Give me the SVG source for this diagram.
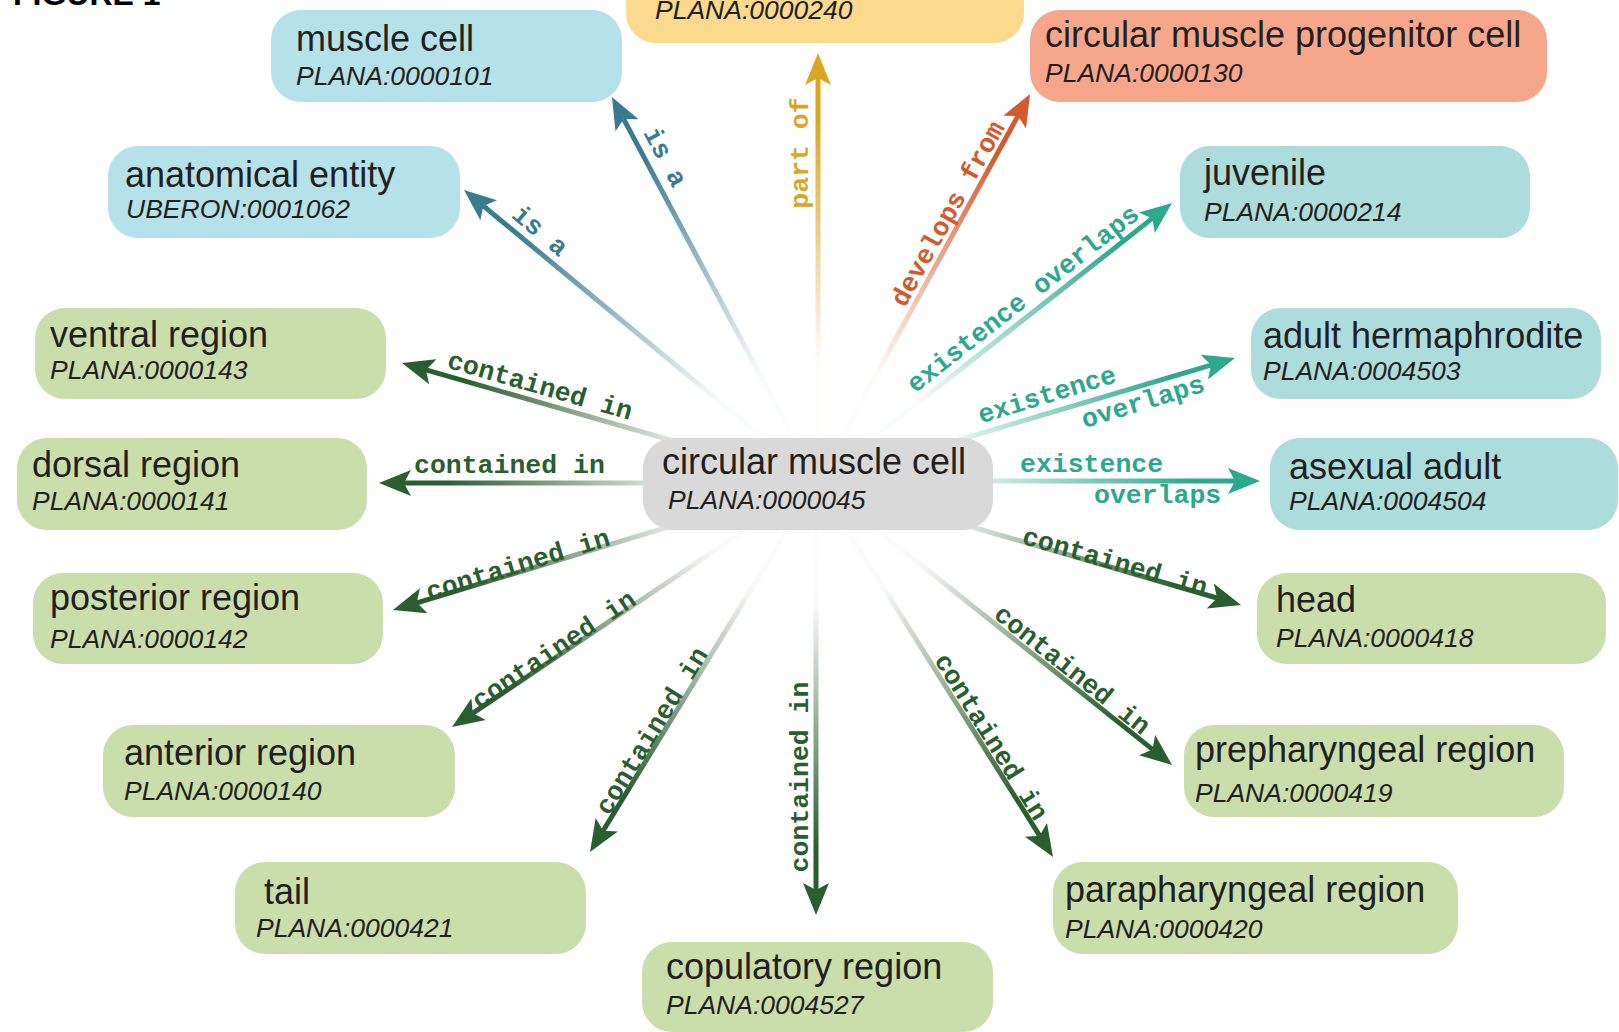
<svg xmlns="http://www.w3.org/2000/svg" width="1619" height="1032" viewBox="0 0 1619 1032">
<style>
.lbl{font-family:"Liberation Sans",Arial,sans-serif;font-size:36px;fill:#231f20}
.id{font-family:"Liberation Sans",Arial,sans-serif;font-size:26.5px;font-style:italic;fill:#231f20}
.el{font-family:"Liberation Mono","Courier New",monospace;font-size:26.5px;font-weight:bold}
.mid{text-anchor:middle}
.edge{fill:none;stroke-width:5}
.blue{fill:#b5e1e8}.teal{fill:#acdcdb}.green{fill:#cadeab}.salmon{fill:#f6a78b}.yellow{fill:#fbd98d}.grey{fill:#d9d9d9}
.c-isa{fill:#3a7b8f}.c-part{fill:#dba623}.c-dev{fill:#d25a2c}.c-ex{fill:#2ca88d}.c-in{fill:#2a5d2f}
</style>
<defs>
<marker id="m-isa" viewBox="0 0 32 26" refX="7" refY="13" markerWidth="32" markerHeight="26" markerUnits="userSpaceOnUse" orient="auto"><path d="M0,0 L32,13 L0,26 L7,13 Z" fill="#3a7b8f"/></marker>
<marker id="m-part" viewBox="0 0 32 26" refX="7" refY="13" markerWidth="32" markerHeight="26" markerUnits="userSpaceOnUse" orient="auto"><path d="M0,0 L32,13 L0,26 L7,13 Z" fill="#dba623"/></marker>
<marker id="m-dev" viewBox="0 0 32 26" refX="7" refY="13" markerWidth="32" markerHeight="26" markerUnits="userSpaceOnUse" orient="auto"><path d="M0,0 L32,13 L0,26 L7,13 Z" fill="#d25a2c"/></marker>
<marker id="m-ex" viewBox="0 0 32 26" refX="7" refY="13" markerWidth="32" markerHeight="26" markerUnits="userSpaceOnUse" orient="auto"><path d="M0,0 L32,13 L0,26 L7,13 Z" fill="#2ca88d"/></marker>
<marker id="m-in" viewBox="0 0 32 26" refX="7" refY="13" markerWidth="32" markerHeight="26" markerUnits="userSpaceOnUse" orient="auto"><path d="M0,0 L32,13 L0,26 L7,13 Z" fill="#2a5d2f"/></marker>
<linearGradient id="g1" gradientUnits="userSpaceOnUse" x1="817" y1="482" x2="623.7" y2="119.1"><stop offset="0" stop-color="#3a7b8f" stop-opacity="0"/><stop offset="0.3" stop-color="#3a7b8f" stop-opacity="0.03"/><stop offset="0.9" stop-color="#3a7b8f" stop-opacity="1"/></linearGradient>
<linearGradient id="g2" gradientUnits="userSpaceOnUse" x1="817" y1="482" x2="483.3" y2="205.9"><stop offset="0" stop-color="#3a7b8f" stop-opacity="0"/><stop offset="0.3" stop-color="#3a7b8f" stop-opacity="0.03"/><stop offset="0.9" stop-color="#3a7b8f" stop-opacity="1"/></linearGradient>
<linearGradient id="g3" gradientUnits="userSpaceOnUse" x1="818" y1="482" x2="818" y2="78"><stop offset="0" stop-color="#dba623" stop-opacity="0"/><stop offset="0.3" stop-color="#dba623" stop-opacity="0.03"/><stop offset="0.9" stop-color="#dba623" stop-opacity="1"/></linearGradient>
<linearGradient id="g4" gradientUnits="userSpaceOnUse" x1="817" y1="482" x2="1018" y2="115.9"><stop offset="0" stop-color="#d25a2c" stop-opacity="0"/><stop offset="0.3" stop-color="#d25a2c" stop-opacity="0.03"/><stop offset="0.9" stop-color="#d25a2c" stop-opacity="1"/></linearGradient>
<linearGradient id="g5" gradientUnits="userSpaceOnUse" x1="817" y1="482" x2="1152.3" y2="218.4"><stop offset="0" stop-color="#2ca88d" stop-opacity="0"/><stop offset="0.3" stop-color="#2ca88d" stop-opacity="0.03"/><stop offset="0.9" stop-color="#2ca88d" stop-opacity="1"/></linearGradient>
<linearGradient id="g6" gradientUnits="userSpaceOnUse" x1="817" y1="482" x2="1211" y2="365.1"><stop offset="0" stop-color="#2ca88d" stop-opacity="0"/><stop offset="0.3" stop-color="#2ca88d" stop-opacity="0.03"/><stop offset="0.9" stop-color="#2ca88d" stop-opacity="1"/></linearGradient>
<linearGradient id="g7" gradientUnits="userSpaceOnUse" x1="817" y1="481" x2="1235" y2="481"><stop offset="0" stop-color="#2ca88d" stop-opacity="0"/><stop offset="0.3" stop-color="#2ca88d" stop-opacity="0.03"/><stop offset="0.9" stop-color="#2ca88d" stop-opacity="1"/></linearGradient>
<linearGradient id="g8" gradientUnits="userSpaceOnUse" x1="817" y1="482" x2="1217" y2="598"><stop offset="0" stop-color="#2a5d2f" stop-opacity="0"/><stop offset="0.3" stop-color="#2a5d2f" stop-opacity="0.03"/><stop offset="0.9" stop-color="#2a5d2f" stop-opacity="1"/></linearGradient>
<linearGradient id="g9" gradientUnits="userSpaceOnUse" x1="817" y1="482" x2="1152.5" y2="749.4"><stop offset="0" stop-color="#2a5d2f" stop-opacity="0"/><stop offset="0.3" stop-color="#2a5d2f" stop-opacity="0.03"/><stop offset="0.9" stop-color="#2a5d2f" stop-opacity="1"/></linearGradient>
<linearGradient id="g10" gradientUnits="userSpaceOnUse" x1="817" y1="482" x2="1039.7" y2="835.8"><stop offset="0" stop-color="#2a5d2f" stop-opacity="0"/><stop offset="0.3" stop-color="#2a5d2f" stop-opacity="0.03"/><stop offset="0.9" stop-color="#2a5d2f" stop-opacity="1"/></linearGradient>
<linearGradient id="g11" gradientUnits="userSpaceOnUse" x1="816" y1="482" x2="816" y2="890"><stop offset="0" stop-color="#2a5d2f" stop-opacity="0"/><stop offset="0.3" stop-color="#2a5d2f" stop-opacity="0.03"/><stop offset="0.9" stop-color="#2a5d2f" stop-opacity="1"/></linearGradient>
<linearGradient id="g12" gradientUnits="userSpaceOnUse" x1="817" y1="482" x2="603.1" y2="830.7"><stop offset="0" stop-color="#2a5d2f" stop-opacity="0"/><stop offset="0.3" stop-color="#2a5d2f" stop-opacity="0.03"/><stop offset="0.9" stop-color="#2a5d2f" stop-opacity="1"/></linearGradient>
<linearGradient id="g13" gradientUnits="userSpaceOnUse" x1="817" y1="482" x2="472.8" y2="713.1"><stop offset="0" stop-color="#2a5d2f" stop-opacity="0"/><stop offset="0.3" stop-color="#2a5d2f" stop-opacity="0.03"/><stop offset="0.9" stop-color="#2a5d2f" stop-opacity="1"/></linearGradient>
<linearGradient id="g14" gradientUnits="userSpaceOnUse" x1="817" y1="482" x2="416.9" y2="602.8"><stop offset="0" stop-color="#2a5d2f" stop-opacity="0"/><stop offset="0.3" stop-color="#2a5d2f" stop-opacity="0.03"/><stop offset="0.9" stop-color="#2a5d2f" stop-opacity="1"/></linearGradient>
<linearGradient id="g15" gradientUnits="userSpaceOnUse" x1="817" y1="483" x2="404" y2="483"><stop offset="0" stop-color="#2a5d2f" stop-opacity="0"/><stop offset="0.3" stop-color="#2a5d2f" stop-opacity="0.03"/><stop offset="0.9" stop-color="#2a5d2f" stop-opacity="1"/></linearGradient>
<linearGradient id="g16" gradientUnits="userSpaceOnUse" x1="817" y1="482" x2="426" y2="369.9"><stop offset="0" stop-color="#2a5d2f" stop-opacity="0"/><stop offset="0.3" stop-color="#2a5d2f" stop-opacity="0.03"/><stop offset="0.9" stop-color="#2a5d2f" stop-opacity="1"/></linearGradient>
</defs>
<rect width="1619" height="1032" fill="#ffffff"/>
<text x="13" y="5" font-family="'Liberation Sans',Arial,sans-serif" font-size="32" font-weight="bold" fill="#000">FIGURE 1</text>

<g id="connectors">
<line class="edge" x1="817" y1="482" x2="623.7" y2="119.1" stroke="url(#g1)" marker-end="url(#m-isa)"/>
<line class="edge" x1="817" y1="482" x2="483.3" y2="205.9" stroke="url(#g2)" marker-end="url(#m-isa)"/>
<line class="edge" x1="818" y1="482" x2="818" y2="78" stroke="url(#g3)" marker-end="url(#m-part)"/>
<line class="edge" x1="817" y1="482" x2="1018" y2="115.9" stroke="url(#g4)" marker-end="url(#m-dev)"/>
<line class="edge" x1="817" y1="482" x2="1152.3" y2="218.4" stroke="url(#g5)" marker-end="url(#m-ex)"/>
<line class="edge" x1="817" y1="482" x2="1211" y2="365.1" stroke="url(#g6)" marker-end="url(#m-ex)"/>
<line class="edge" x1="817" y1="481" x2="1235" y2="481" stroke="url(#g7)" marker-end="url(#m-ex)"/>
<line class="edge" x1="817" y1="482" x2="1217" y2="598" stroke="url(#g8)" marker-end="url(#m-in)"/>
<line class="edge" x1="817" y1="482" x2="1152.5" y2="749.4" stroke="url(#g9)" marker-end="url(#m-in)"/>
<line class="edge" x1="817" y1="482" x2="1039.7" y2="835.8" stroke="url(#g10)" marker-end="url(#m-in)"/>
<line class="edge" x1="816" y1="482" x2="816" y2="890" stroke="url(#g11)" marker-end="url(#m-in)"/>
<line class="edge" x1="817" y1="482" x2="603.1" y2="830.7" stroke="url(#g12)" marker-end="url(#m-in)"/>
<line class="edge" x1="817" y1="482" x2="472.8" y2="713.1" stroke="url(#g13)" marker-end="url(#m-in)"/>
<line class="edge" x1="817" y1="482" x2="416.9" y2="602.8" stroke="url(#g14)" marker-end="url(#m-in)"/>
<line class="edge" x1="817" y1="483" x2="404" y2="483" stroke="url(#g15)" marker-end="url(#m-in)"/>
<line class="edge" x1="817" y1="482" x2="426" y2="369.9" stroke="url(#g16)" marker-end="url(#m-in)"/>

<text class="el c-isa mid" transform="translate(665,157) rotate(62)" y="8">is a</text>
<text class="el c-isa mid" transform="translate(540,231) rotate(40)" y="8">is a</text>
<text class="el c-part mid" transform="translate(800,153) rotate(-90)" y="8">part of</text>
<text class="el c-dev mid" transform="translate(948,214) rotate(-61)" y="8">develops from</text>
<text class="el c-ex mid" transform="translate(1023,299) rotate(-38)" y="8">existence overlaps</text>
<text class="el c-ex mid" transform="translate(1047,395) rotate(-17)" y="8">existence</text>
<text class="el c-ex mid" transform="translate(1143,402) rotate(-17)" y="8">overlaps</text>
<text class="el c-ex" x="1020" y="472">existence</text>
<text class="el c-ex" x="1094" y="503">overlaps</text>
<text class="el c-in mid" transform="translate(1115,562) rotate(16)" y="8">contained in</text>
<text class="el c-in mid" transform="translate(1072,670) rotate(38.6)" y="8">contained in</text>
<text class="el c-in mid" transform="translate(991,737) rotate(58)" y="8">contained in</text>
<text class="el c-in mid" transform="translate(800,777) rotate(-90)" y="8">contained in</text>
<text class="el c-in mid" transform="translate(652,731) rotate(-58.5)" y="8">contained in</text>
<text class="el c-in mid" transform="translate(554,650) rotate(-34)" y="8">contained in</text>
<text class="el c-in mid" transform="translate(518,565) rotate(-17)" y="8">contained in</text>
<text class="el c-in" x="414" y="473">contained in</text>
<text class="el c-in mid" transform="translate(540,386) rotate(16)" y="8">contained in</text>
</g>

<g id="node-partof-target"><rect class="yellow" x="626" y="-50" width="398" height="93" rx="30"/><text class="id" x="655" y="19">PLANA:0000240</text></g>
<g id="node-muscle-cell"><rect class="blue" x="271" y="10" width="351" height="92" rx="30"/><text class="lbl" x="296" y="51">muscle cell</text><text class="id" x="296" y="85">PLANA:0000101</text></g>
<g id="node-anatomical-entity"><rect class="blue" x="108" y="146" width="352" height="92" rx="30"/><text class="lbl" x="125" y="187">anatomical entity</text><text class="id" x="126" y="218">UBERON:0001062</text></g>
<g id="node-progenitor"><rect class="salmon" x="1030" y="10" width="517" height="92" rx="30"/><text class="lbl" x="1045" y="47">circular muscle progenitor cell</text><text class="id" x="1045" y="82">PLANA:0000130</text></g>
<g id="node-juvenile"><rect class="teal" x="1180" y="146" width="350" height="92" rx="30"/><text class="lbl" x="1204" y="185">juvenile</text><text class="id" x="1204" y="221">PLANA:0000214</text></g>
<g id="node-ventral"><rect class="green" x="35" y="308" width="351" height="91" rx="30"/><text class="lbl" x="50" y="347">ventral region</text><text class="id" x="50" y="379">PLANA:0000143</text></g>
<g id="node-dorsal"><rect class="green" x="17" y="438" width="350" height="92" rx="30"/><text class="lbl" x="32" y="477">dorsal region</text><text class="id" x="32" y="510">PLANA:0000141</text></g>
<g id="node-posterior"><rect class="green" x="33" y="573" width="350" height="91" rx="30"/><text class="lbl" x="50" y="610">posterior region</text><text class="id" x="50" y="648">PLANA:0000142</text></g>
<g id="node-center"><rect class="grey" x="643" y="438" width="350" height="92" rx="30"/><text class="lbl" x="662" y="474">circular muscle cell</text><text class="id" x="668" y="509">PLANA:0000045</text></g>
<g id="node-adult-herm"><rect class="teal" x="1251" y="308" width="350" height="91" rx="30"/><text class="lbl" x="1263" y="348">adult hermaphrodite</text><text class="id" x="1263" y="380">PLANA:0004503</text></g>
<g id="node-asexual"><rect class="teal" x="1270" y="438" width="348" height="92" rx="30"/><text class="lbl" x="1289" y="479">asexual adult</text><text class="id" x="1289" y="510">PLANA:0004504</text></g>
<g id="node-head"><rect class="green" x="1257" y="573" width="349" height="91" rx="30"/><text class="lbl" x="1276" y="612">head</text><text class="id" x="1276" y="647">PLANA:0000418</text></g>
<g id="node-anterior"><rect class="green" x="103" y="725" width="352" height="92" rx="30"/><text class="lbl" x="124" y="765">anterior region</text><text class="id" x="124" y="800">PLANA:0000140</text></g>
<g id="node-tail"><rect class="green" x="235" y="862" width="351" height="92" rx="30"/><text class="lbl" x="264" y="904">tail</text><text class="id" x="256" y="937">PLANA:0000421</text></g>
<g id="node-copulatory"><rect class="green" x="642" y="942" width="351" height="90" rx="30"/><text class="lbl" x="666" y="979">copulatory region</text><text class="id" x="666" y="1014">PLANA:0004527</text></g>
<g id="node-prepharyngeal"><rect class="green" x="1184" y="725" width="380" height="92" rx="30"/><text class="lbl" x="1195" y="762">prepharyngeal region</text><text class="id" x="1195" y="802">PLANA:0000419</text></g>
<g id="node-parapharyngeal"><rect class="green" x="1053" y="862" width="405" height="92" rx="30"/><text class="lbl" x="1065" y="902">parapharyngeal region</text><text class="id" x="1065" y="938">PLANA:0000420</text></g>
</svg>
